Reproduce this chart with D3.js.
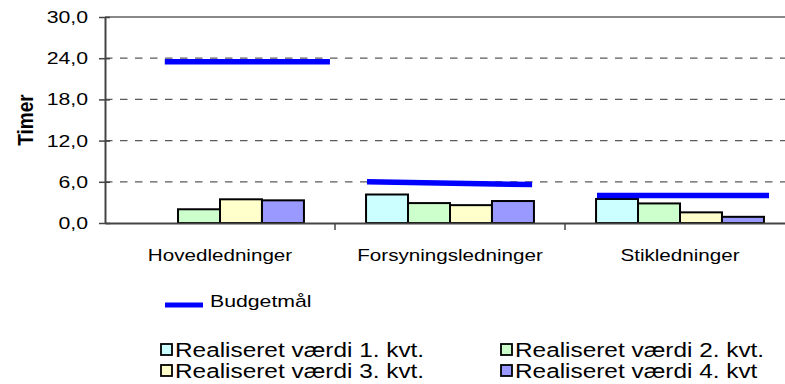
<!DOCTYPE html>
<html>
<head>
<meta charset="utf-8">
<script src="https://cdn.jsdelivr.net/npm/d3@7"></script>
<style>
  html, body { margin: 0; padding: 0; background: #fff; }
  svg { display: block; }
  text { font-family: "Liberation Sans", Arial, sans-serif; fill: #000; }
</style>
</head>
<body>
<svg id="chart" width="785" height="384"></svg>
<script>
// Anlægsgrupper og kvartalsværdier (timer)
const categories = ["Hovedledninger", "Forsyningsledninger", "Stikledninger"];
const seriesNames = [
  "Realiseret værdi 1. kvt.",
  "Realiseret værdi 2. kvt.",
  "Realiseret værdi 3. kvt.",
  "Realiseret værdi 4. kvt"
];
const q1 = [null, 4.15, 3.5];
const q2 = [2.0, 2.9, 2.85];
const q3 = [3.45, 2.6, 1.55];
const q4 = [3.3, 3.2, 0.9];
// Budgetmål: start- og slutværdi for hver gruppe
const budgetStart = [23.5, 6.0, 4.0];
const budgetEnd = [23.5, 5.6, 4.0];
const budgetLabel = "Budgetmål";
const yTicks = [0, 6, 12, 18, 24, 30];
const yTitle = "Timer";

const seriesValues = [q1, q2, q3, q4];
const seriesColors = ["#CCFFFF", "#CCFFCC", "#FFFFCC", "#9999FF"];

const svg = d3.select("#chart");

// the chart's type is set wide: glyphs are stretched horizontally
const TX = 1.25;

const plot = { left: 105, right: 795, top: 17, bottom: 223 };

const x = d3.scaleBand().domain(categories).range([plot.left, plot.right]).paddingInner(0).paddingOuter(0);
const bw = x.bandwidth();
const xs = d3.scaleBand().domain(d3.range(seriesNames.length)).range([bw * 0.135, bw * 0.865]).padding(0);
const y = d3.scaleLinear().domain([0, 30]).range([plot.bottom, plot.top]);

const fmt = v => d3.format(".1f")(v).replace(".", ",");

// dashed gridlines
svg.append("g")
  .selectAll("line")
  .data(yTicks.filter(t => t > 0 && t < 30))
  .join("line")
  .attr("x1", plot.left).attr("x2", 785)
  .attr("y1", d => y(d)).attr("y2", d => y(d))
  .attr("stroke", "#5a5a5a").attr("stroke-width", 1.2)
  .attr("stroke-dasharray", "7.5,7.5");

// top border
svg.append("line")
  .attr("x1", plot.left).attr("x2", 785)
  .attr("y1", y(30)).attr("y2", y(30))
  .attr("stroke", "#888").attr("stroke-width", 2);

// y axis
const yAxis = d3.axisLeft(y).tickValues(yTicks).tickFormat(fmt).tickSizeInner(6).tickSizeOuter(0).tickPadding(11);
const gy = svg.append("g").attr("transform", `translate(${plot.left},0)`).call(yAxis);
gy.select(".domain").attr("stroke", "#444").attr("stroke-width", 2);
gy.selectAll(".tick line").attr("stroke", "#444").attr("stroke-width", 1.5).attr("x2", -6).attr("x1", 5);
gy.selectAll(".tick text")
  .attr("font-family", "Liberation Sans, Arial, sans-serif")
  .attr("font-size", 17).attr("fill", "#000")
  .attr("x", 0)
  .attr("transform", `translate(-17,0) scale(${TX},1)`);

// bars
const bars = svg.append("g");
categories.forEach((c, ci) => {
  seriesValues.forEach((vals, si) => {
    const v = vals[ci];
    if (v == null) return;
    bars.append("rect")
      .attr("x", x(c) + xs(si))
      .attr("y", y(v))
      .attr("width", xs.bandwidth())
      .attr("height", y(0) - y(v))
      .attr("fill", seriesColors[si])
      .attr("stroke", "#000")
      .attr("stroke-width", 2);
  });
});

// x axis
const xAxis = d3.axisBottom(x).tickSize(0).tickPadding(26);
const gx = svg.append("g").attr("transform", `translate(0,${plot.bottom})`).call(xAxis);
gx.select(".domain").attr("stroke", "#444").attr("stroke-width", 2);
gx.selectAll(".tick text")
  .attr("font-family", "Liberation Sans, Arial, sans-serif")
  .attr("font-size", 16.5).attr("fill", "#000")
  .attr("transform", `scale(${TX},1)`);
// category separators
gx.selectAll(".sep")
  .data(categories.slice(1))
  .join("line")
  .attr("class", "sep")
  .attr("x1", d => x(d)).attr("x2", d => x(d))
  .attr("y1", 0).attr("y2", 7)
  .attr("stroke", "#444").attr("stroke-width", 1.5);

// budget lines, spanning a share of each band
const budgetSpan = [[0.26, 0.978], [0.139, 0.857], [0.139, 0.887]];
svg.append("g")
  .selectAll("line")
  .data(categories)
  .join("line")
  .attr("x1", (d, i) => x(d) + bw * budgetSpan[i][0])
  .attr("x2", (d, i) => x(d) + bw * budgetSpan[i][1])
  .attr("y1", (d, i) => y(budgetStart[i]))
  .attr("y2", (d, i) => y(budgetEnd[i]))
  .attr("stroke", "#0000FF").attr("stroke-width", 5.5);

// y title
svg.append("text")
  .attr("transform", `translate(33,120) scale(1.15,1) rotate(-90)`)
  .attr("text-anchor", "middle")
  .attr("font-size", 19).attr("font-weight", "bold")
  .text(yTitle);

// legend
const lg = svg.append("g");
lg.append("line")
  .attr("x1", 165).attr("x2", 203).attr("y1", 305).attr("y2", 305)
  .attr("stroke", "#0000FF").attr("stroke-width", 5);
lg.append("text")
  .attr("transform", `translate(210,307) scale(${TX},1)`)
  .attr("font-size", 17).text(budgetLabel);

const legPos = [[161, 350], [501, 350], [161, 371], [501, 371]];
seriesNames.forEach((n, i) => {
  const [lx, ly] = legPos[i];
  lg.append("rect")
    .attr("x", lx).attr("y", ly - 6).attr("width", 11).attr("height", 11)
    .attr("fill", seriesColors[i]).attr("stroke", "#000").attr("stroke-width", 1.8);
  lg.append("text")
    .attr("transform", `translate(${lx + 14},${ly + 7}) scale(${TX},1)`)
    .attr("font-size", 19.5).text(n);
});
</script>
</body>
</html>
